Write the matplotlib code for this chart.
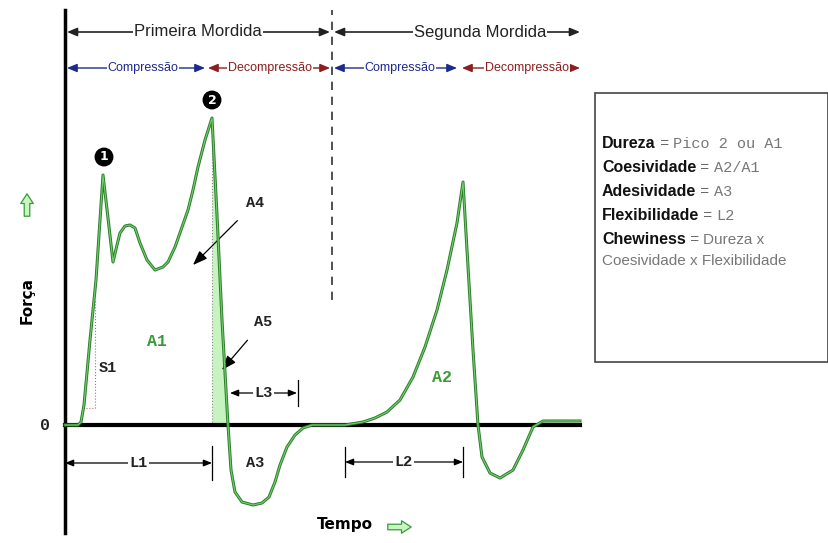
import matplotlib.pyplot as plt
from matplotlib.patches import Rectangle

# curva do perfil de textura (tempo, forca)
tempo = [0, 13, 16, 19, 25, 31, 35, 38, 43, 48, 52, 55, 60, 65, 70, 75, 82, 90, 98, 103,
         110, 116, 123, 128, 133, 140, 147, 152, 157, 163, 166, 170, 177, 188, 197,
         204, 210, 215, 222, 230, 238, 247, 280, 298, 310, 322, 335, 348, 360, 372, 382, 392,
         398, 402, 408, 413, 417, 425, 435, 448, 458, 468, 478, 515]
forca = [0, 0, 3, 20, 85, 145, 205, 250, 207, 163, 180, 192, 199, 200, 197, 182, 165, 155, 158, 163,
         178, 195, 215, 235, 258, 285, 307, 210, 105, 0, -45, -67, -77, -80, -78,
         -72, -57, -40, -22, -10, -3, 0, 0, 3, 7, 13, 25, 48, 78, 115, 155, 202,
         243, 175, 75, 0, -32, -48, -53, -45, -25, -2, 4, 4]

i_pico2 = 26   # indice do pico 2
i_zero1 = 29   # cruzamento com zero apos o pico 2

formulas = [
    ("Dureza", " = ", "Pico 2 ou A1", "mono"),
    ("Coesividade", " = ", "A2/A1", "mono"),
    ("Adesividade", " = ", "A3", "mono"),
    ("Flexibilidade", " = ", "L2", "mono"),
    ("Chewiness", " = ", "Dureza x", "sans"),
]

SANS = ['Liberation Sans Narrow', 'Liberation Sans', 'DejaVu Sans']
MONO = ['Liberation Mono', 'DejaVu Sans Mono']
verde = '#3a9a3a'
azul = '#1c2a8c'
vermelho = '#8b1e1e'

fig = plt.figure(figsize=(8.29, 5.43), dpi=100)
ax = fig.add_axes([0, 0, 1, 1])
ax.set_xlim(-65, 764)
ax.set_ylim(-118, 425)
ax.axis('off')

# eixos
ax.plot([0, 0], [-108, 415], color='black', lw=2.5)
ax.plot([0, 515], [0, 0], color='black', lw=3, zorder=3)
ax.plot([267, 267], [125, 415], color='#333333', lw=1.2, ls=(0, (5, 4)))

# area A4 / A5
seg_t = tempo[i_pico2:i_zero1 + 1]
seg_f = forca[i_pico2:i_zero1 + 1]
ax.fill_betweenx(seg_f, tempo[i_pico2], seg_t, color='#b8f0b0', alpha=0.8, lw=0)
ax.plot([tempo[i_pico2]] * 2, [0, forca[i_pico2]], color='#888888', lw=0.8, ls=':')

# curva
ax.plot(tempo, forca, color='#2f7d2f', lw=2.2, zorder=4)
ax.plot(tempo, forca, color='#6fd06a', lw=0.8, zorder=5)

# S1
ax.plot([30, 30], [17, 125], color='#cc6666', lw=0.8, ls=':')
ax.plot([18, 30], [17, 17], color='#cc6666', lw=0.8, ls=':')

# picos numerados
for n, (x, y) in enumerate([(39, 268), (147, 325)], start=1):
    ax.text(x, y, str(n), color='white', fontsize=9, fontweight='bold', ha='center', va='center',
            family='DejaVu Sans', bbox=dict(boxstyle='circle,pad=0.18', fc='black', ec='black'))

# setas superiores
def seta(x0, x1, y, txt, xt, cor, fs, lw):
    ax.annotate('', xy=(x0, y), xytext=(x1, y),
                arrowprops=dict(arrowstyle='<|-|>,head_length=0.6,head_width=0.25', color=cor, lw=lw,
                                shrinkA=0, shrinkB=0))
    ax.text(xt, y, txt, ha='center', va='center', color=cor, fontsize=fs, family=SANS,
            bbox=dict(fc='white', ec='none', pad=0.5))

seta(2, 265, 393, 'Primeira Mordida', 133, '#222222', 12, 1.2)
seta(269, 515, 393, 'Segunda Mordida', 415, '#222222', 12, 1.2)
seta(2, 140, 357, 'Compressão', 78, azul, 9, 1.0)
seta(143, 265, 357, 'Decompressão', 205, vermelho, 9, 1.0)
seta(269, 392, 357, 'Compressão', 335, azul, 9, 1.0)
seta(397, 515, 357, 'Decompressão', 462, vermelho, 9, 1.0)

# rótulos de áreas
lab = dict(family=MONO, fontweight='bold', fontsize=11, ha='center', va='center')
ax.text(92, 83, 'A1', color=verde, **dict(lab, fontsize=12))
ax.text(377, 48, 'A2', color=verde, **dict(lab, fontsize=12))
ax.text(190, -38, 'A3', color='#222222', **lab)
ax.text(43, 57, 'S1', color='#222222', **lab)
ax.text(-20, 0, '0', color='#222222', **dict(lab, fontsize=12))
ax.annotate('A4', xy=(128, 160), xytext=(190, 222), color='#222222',
            arrowprops=dict(arrowstyle='-|>,head_length=0.8,head_width=0.3', color='black', lw=0.9,
                            shrinkA=8, shrinkB=0), **lab)
ax.annotate('A5', xy=(157, 55), xytext=(198, 103), color='#222222',
            arrowprops=dict(arrowstyle='-|>,head_length=0.8,head_width=0.3', color='black', lw=0.9,
                            shrinkA=8, shrinkB=0), **lab)

# cotas L1, L2, L3
def cota(x0, x1, y, txt, tick0, tick1, dy):
    ax.annotate('', xy=(x0, y), xytext=(x1, y),
                arrowprops=dict(arrowstyle='<|-|>,head_length=0.5,head_width=0.2', color='black', lw=0.9,
                                shrinkA=0, shrinkB=0))
    ax.text((x0 + x1) / 2, y, txt, color='#222222', bbox=dict(fc='white', ec='none', pad=1), **lab)
    for xt in (tick0, tick1):
        if xt is not None:
            ax.plot([xt, xt], [y - dy, y + dy], color='black', lw=0.9)

cota(0, 147, -38, 'L1', None, 147, 17)
cota(280, 398, -37, 'L2', 280, 398, 15)
cota(165, 232, 32, 'L3', None, 233, 13)

# títulos dos eixos
ax.text(-38, 125, 'Força', rotation=90, ha='center', va='center', fontsize=11,
        fontweight='bold', family='DejaVu Sans')
ax.text(280, -100, 'Tempo', ha='center', va='center', fontsize=11,
        fontweight='bold', family='DejaVu Sans')
seta_verde = dict(arrowstyle='simple,head_width=0.9,head_length=0.7,tail_width=0.4',
                  fc='#c8f5c0', ec=verde, lw=0.9)
ax.annotate('', xy=(-38, 234), xytext=(-38, 206), arrowprops=seta_verde)
ax.annotate('', xy=(349, -102), xytext=(320, -102), arrowprops=seta_verde)

# quadro com fórmulas
ax.add_patch(Rectangle((530, 63), 233, 269, fill=False, ec='#444444', lw=1.2))
ys = [282, 257, 233, 210, 186]
for (nome, igual, expr, tipo), y in zip(formulas, ys):
    t1 = ax.text(537, y, nome, fontsize=11.5, fontweight='bold', family=SANS, va='center', color='#111111')
    t2 = ax.annotate(igual, xy=(1, 0), xycoords=t1, va='bottom', fontsize=11, family=SANS, color='#666666')
    fam = MONO if tipo == 'mono' else SANS
    ax.annotate(expr, xy=(1, 0), xycoords=t2, va='bottom', fontsize=11, family=fam, color='#777777')
ax.text(537, 164, 'Coesividade x Flexibilidade', fontsize=11, family=SANS, va='center', color='#777777')

plt.savefig('out.png', dpi=100)
